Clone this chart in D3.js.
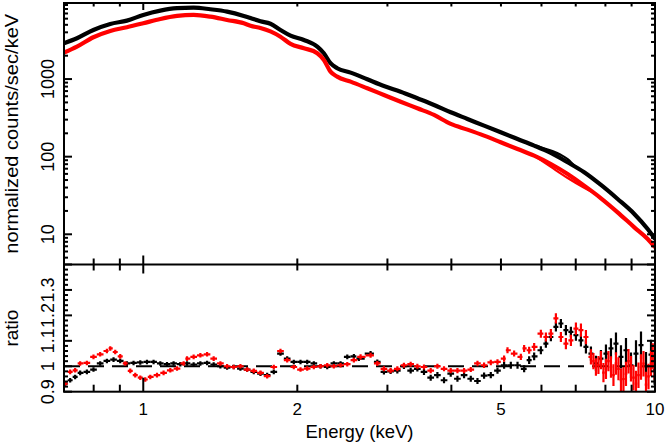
<!DOCTYPE html>
<html><head><meta charset="utf-8">
<script src="https://cdn.jsdelivr.net/npm/d3@7"></script>
<style>
body{margin:0;background:#fff}
svg{display:block}
text{font-family:"Liberation Sans",Arial,sans-serif;fill:#000}
</style></head>
<body><svg id="c" width="667" height="443"></svg>
<script>
// ---------- data ----------
const specBlackE = [0.70,0.742,0.799,0.862,0.929,1.00,1.08,1.164,1.254,1.352,1.458,1.572,1.62,1.694,1.772,1.854,1.94,2.06,2.188,2.254,2.322,2.393,2.542,2.74,2.953,3.184,3.433,3.70,3.989,4.30,4.634,4.995,5.387,5.805,6.259,6.748,7.271,7.842,8.453,9.111,9.676,10.0];
const specBlackC = [2890,3360,4290,5130,5660,6700,7610,8180,8320,7930,7390,6500,6100,5560,5160,4290,3625,3190,2615,2150,1600,1380,1210,994,815,688,566,464,373,306,251,206,169,139,111.7,84.7,63,43.2,28.5,18.3,11.7,8.7];
const specBlackBE = [5.4,5.8,6.26,6.54,6.75,7.0];
const specBlackBC = [169,141,120,106,93,73];
const specRedE = [0.70,0.742,0.799,0.862,0.929,1.00,1.08,1.164,1.254,1.352,1.458,1.572,1.62,1.694,1.772,1.854,1.94,2.06,2.188,2.254,2.322,2.393,2.542,2.74,2.953,3.184,3.433,3.70,3.989,4.30,4.634,4.995,5.387,5.805,6.259,6.748,7.271,7.842,8.453,9.111,9.676,10.0];
const specRedC = [2190,2615,3457,4168,4651,5236,5951,6504,6699,6371,5775,5236,4850,4550,4120,3518,2835,2495,2150,1763,1245,1074,926,761,624,511,420,345,264,223,186.6,153.3,125.7,103,80.5,59.8,42.3,29.1,19.2,12.3,8.7,6.8];
const specRedBE = [5.8,6.26,6.75,7.27,7.6];
const specRedBC = [103,73.7,53.2,39.8,34.1];

const ratBlackE = [0.7037,0.7197,0.736,0.7528,0.7759,0.7993,0.8237,0.849,0.8748,0.9015,0.9292,0.9572,0.9866,1.0168,1.0475,1.0796,1.1126,1.1462,1.1814,1.2176,1.2544,1.2929,1.3325,1.3727,1.4148,1.4582,1.5022,1.5483,1.5957,1.644,1.6944,1.7463,1.799,1.8541,1.9109,1.9686,2.0289,2.091,2.1542,2.2202,2.2882,2.3572,2.4295,2.504,2.5795,2.6382,2.781,2.8663,2.9529,3.0435,3.1368,3.2315,3.3306,3.4327,3.5364,3.6448,3.7566,3.87,3.9886,4.111,4.2351,4.3649,4.4987,4.6344,4.7764,4.9228,5.0713,5.2267,5.3871,5.55,5.6765,5.8058,5.9837,6.12,6.2594,6.4021,6.5479,6.6971,6.8497,7.0058,7.1654,7.3286,7.4956,7.6664,7.841,8.0197,8.2024,8.3893,8.5804,8.7759,8.9758,9.1803,9.3895,9.6034,9.8221,9.98];
const ratBlackR = [0.932,0.945,0.958,0.974,0.978,0.987,1.011,1.021,1.026,1.021,1.011,1.013,1.015,1.017,1.017,1.011,1.008,1.011,1.008,1.011,1.007,1.011,1.013,1.007,1.000,0.995,0.997,0.991,0.987,0.978,0.971,0.965,0.978,1.050,1.030,1.017,1.017,1.017,1.011,1.000,0.997,1.011,1.011,1.037,1.039,1.030,1.050,1.017,0.978,0.980,0.983,1.000,0.983,0.990,0.978,0.955,0.965,0.945,0.971,0.951,0.965,0.951,0.942,0.963,0.965,0.983,1.004,1.004,1.004,0.990,1.024,1.039,1.063,1.089,1.115,1.155,1.168,1.142,1.135,1.122,1.102,1.076,1.050,1.011,1.030,1.050,1.070,1.089,1.037,1.063,1.004,1.050,1.083,1.000,1.046,0.987];
const ratBlackErr = [0.009,0.009,0.009,0.009,0.009,0.009,0.009,0.009,0.009,0.009,0.009,0.009,0.009,0.009,0.009,0.009,0.009,0.009,0.009,0.009,0.009,0.009,0.009,0.009,0.009,0.009,0.009,0.009,0.009,0.009,0.009,0.009,0.009,0.009,0.009,0.009,0.009,0.009,0.009,0.009,0.009,0.009,0.009,0.009,0.009,0.009,0.01,0.01,0.01,0.01,0.011,0.011,0.011,0.011,0.012,0.012,0.012,0.012,0.012,0.012,0.012,0.012,0.012,0.012,0.012,0.012,0.014,0.014,0.014,0.014,0.015,0.015,0.016,0.016,0.017,0.018,0.018,0.02,0.02,0.022,0.024,0.026,0.028,0.03,0.034,0.036,0.04,0.044,0.046,0.048,0.05,0.052,0.054,0.056,0.058,0.06];

const ratRedE = [0.7037,0.7197,0.736,0.7528,0.7759,0.7993,0.8237,0.849,0.862,0.8815,0.9015,0.9222,0.9431,0.9646,0.9866,1.009,1.032,1.0637,1.0957,1.1293,1.1641,1.1992,1.2176,1.2544,1.2929,1.3325,1.3727,1.4148,1.4582,1.5022,1.5483,1.5957,1.644,1.6944,1.7463,1.799,1.8541,1.9109,1.9686,2.0289,2.091,2.1542,2.2202,2.2882,2.3572,2.4295,2.504,2.5795,2.6585,2.781,2.8663,2.9529,3.0435,3.1368,3.2315,3.3306,3.4327,3.5364,3.6448,3.7566,3.87,3.9886,4.111,4.2351,4.3649,4.4987,4.6344,4.7764,4.9228,5.0713,5.1496,5.3053,5.4679,5.55,5.6765,5.8058,5.9837,6.12,6.2594,6.4021,6.5479,6.6971,6.8497,7.0058,7.1654,7.3286,7.4956,7.58,7.6664,7.753,7.841,7.93,8.0197,8.11,8.2024,8.295,8.3893,8.484,8.5804,8.677,8.7759,8.875,8.9758,9.077,9.1803,9.284,9.3895,9.496,9.6034,9.712,9.8221,9.90,9.98];
const ratRedR = [0.932,0.978,0.984,1.011,1.013,1.037,1.047,1.060,1.070,1.056,1.039,1.011,0.982,0.965,0.955,0.948,0.958,0.965,0.974,0.984,0.991,1.011,1.030,1.037,1.043,1.047,1.030,1.011,1.000,0.997,1.000,0.987,0.982,0.974,0.961,0.997,1.060,1.024,0.997,0.987,0.991,0.997,1.000,1.004,1.000,1.004,1.008,1.024,1.037,1.043,1.011,0.990,0.983,0.990,1.004,1.008,1.000,0.997,0.983,1.000,0.990,0.983,0.983,0.983,0.987,1.011,1.004,1.015,1.017,1.030,1.063,1.050,1.037,1.070,1.063,1.076,1.128,1.115,1.128,1.188,1.115,1.089,1.102,1.148,1.142,1.115,1.037,1.020,0.997,1.005,1.024,0.975,0.990,1.020,0.997,0.965,1.011,0.990,0.945,0.950,0.970,1.020,0.990,0.955,0.932,0.965,0.997,1.010,0.928,0.960,1.011,1.040,0.997];
const ratRedErr = [0.009,0.009,0.009,0.009,0.009,0.009,0.009,0.009,0.009,0.009,0.009,0.009,0.009,0.009,0.009,0.009,0.009,0.009,0.009,0.009,0.009,0.009,0.009,0.009,0.009,0.009,0.009,0.009,0.009,0.009,0.009,0.009,0.009,0.009,0.009,0.009,0.009,0.009,0.009,0.009,0.009,0.009,0.009,0.009,0.009,0.009,0.009,0.009,0.01,0.01,0.01,0.01,0.01,0.01,0.01,0.01,0.01,0.01,0.01,0.01,0.01,0.01,0.01,0.01,0.01,0.011,0.011,0.011,0.011,0.012,0.012,0.012,0.012,0.014,0.014,0.015,0.016,0.018,0.018,0.02,0.02,0.022,0.022,0.024,0.026,0.028,0.03,0.032,0.034,0.035,0.036,0.038,0.04,0.04,0.042,0.043,0.044,0.045,0.046,0.047,0.048,0.048,0.05,0.05,0.05,0.05,0.05,0.05,0.05,0.05,0.05,0.05,0.05];

const xMajorTicks = [1, 10];
const xMinorTicks = [0.8, 0.9, 2, 3, 4, 5, 6, 7, 8, 9];
const xTickLabels = [1, 2, 5, 10];
const yTopMajorTicks = [10, 100, 1000];
const yTopMinorTicks = [5,6,7,8,9,20,30,40,50,60,70,80,90,200,300,400,500,600,700,800,900,2000,3000,4000,5000,6000,7000,8000,9000];
const yTopTickLabels = ["10","100","1000"];
const ratioMajorTicks = [0.9, 1.0, 1.1, 1.2, 1.3, 1.4];
const ratioMinorTicks = [0.92,0.94,0.96,0.98,1.02,1.04,1.06,1.08,1.12,1.14,1.16,1.18,1.22,1.24,1.26,1.28,1.32,1.34,1.36,1.38];
const ratioTickLabels = ["0.9","1","1.1","1.2","1.3"];

// ---------- layout ----------
const L = 64, R = 655, T = 3, M = 264.5, B = 391.7;
const svg = d3.select("#c");
const x = d3.scaleLog().domain([0.7, 10]).range([L, R]);
const yTop = d3.scaleLog().domain([4.08, 9550]).range([M, T]);
const yRat = d3.scaleLinear().domain([0.9, 1.4]).range([B, M]);

const defs = svg.append("defs");
defs.append("clipPath").attr("id","cTop").append("rect").attr("x",L).attr("y",T).attr("width",R-L).attr("height",M-T);
defs.append("clipPath").attr("id","cBot").append("rect").attr("x",L).attr("y",M).attr("width",R-L).attr("height",B-M);

// ---------- top panel spectra ----------
const gTop = svg.append("g").attr("clip-path","url(#cTop)");
function specLine(E, C, color, w){
  const pts = E.map((e,i)=>[e, C[i]]);
  gTop.append("path").datum(pts)
    .attr("d", d3.line().x(d=>x(d[0])).y(d=>yTop(d[1])).curve(d3.curveMonotoneX))
    .attr("fill","none").attr("stroke",color).attr("stroke-width",w).attr("stroke-linejoin","round");
}
specLine(specBlackE, specBlackC, "#000", 4.2);
specLine(specBlackBE, specBlackBC, "#000", 2.2);
specLine(specRedE, specRedC, "#ff0000", 4.2);
specLine(specRedBE, specRedBC, "#ff0000", 2.2);

// ---------- ratio panel ----------
const gBot = svg.append("g").attr("clip-path","url(#cBot)");
gBot.append("line").attr("x1",L).attr("x2",R).attr("y1",yRat(1)).attr("y2",yRat(1))
  .attr("stroke","#000").attr("stroke-width",2).attr("stroke-dasharray","16,8");
function crosses(E, Rv, Er, color){
  const g = gBot.append("g").attr("stroke",color).attr("stroke-width",2.2);
  E.forEach((e,i)=>{
    const lo = i>0 ? Math.sqrt(E[i-1]*e) : e*e/Math.sqrt(e*E[i+1]);
    const hi = i<E.length-1 ? Math.sqrt(E[i+1]*e) : e*e/Math.sqrt(e*E[i-1]);
    g.append("line").attr("x1",x(lo)).attr("x2",x(hi)).attr("y1",yRat(Rv[i])).attr("y2",yRat(Rv[i]));
    g.append("line").attr("x1",x(e)).attr("x2",x(e)).attr("y1",yRat(Rv[i]-Er[i])).attr("y2",yRat(Rv[i]+Er[i]));
  });
}
crosses(ratBlackE, ratBlackR, ratBlackErr, "#000");
crosses(ratRedE, ratRedR, ratRedErr, "#ff0000");

// ---------- frames & ticks ----------
const ax = svg.append("g").attr("stroke","#000").attr("stroke-width",2).attr("fill","none");
ax.append("rect").attr("x",L).attr("y",T).attr("width",R-L).attr("height",B-T);
ax.append("line").attr("x1",L).attr("x2",R).attr("y1",M).attr("y2",M);
function vt(v, y0, len){ ax.append("line").attr("x1",x(v)).attr("x2",x(v)).attr("y1",y0).attr("y2",y0+len); }
xMajorTicks.forEach(v=>{ vt(v,T,7); vt(v,M,-9); vt(v,M,9); vt(v,B,-14); });
xMinorTicks.forEach(v=>{ vt(v,T,3.5); vt(v,M,-6); vt(v,M,6); vt(v,B,-7); });
function ht(y, x0, len){ ax.append("line").attr("x1",x0).attr("x2",x0+len).attr("y1",y).attr("y2",y); }
yTopMajorTicks.forEach(v=>{ ht(yTop(v),L,8); ht(yTop(v),R,-8); });
yTopMinorTicks.forEach(v=>{ ht(yTop(v),L,4); ht(yTop(v),R,-4); });
ratioMajorTicks.forEach(v=>{ ht(yRat(v),L,8); ht(yRat(v),R,-8); });
ratioMinorTicks.forEach(v=>{ ht(yRat(v),L,4); ht(yRat(v),R,-4); });

// ---------- labels ----------
const fs = 18;
xTickLabels.forEach(v=>{
  svg.append("text").attr("x",x(v)).attr("y",415).attr("text-anchor","middle").attr("font-size",17).text(String(v));
});
yTopMajorTicks.forEach((v,i)=>{
  svg.append("text").attr("transform",`translate(53.5,${yTop(v)}) rotate(-90)`).attr("text-anchor","middle").attr("font-size",fs).text(yTopTickLabels[i]);
});
ratioTickLabels.forEach((t,i)=>{
  svg.append("text").attr("transform",`translate(53.5,${yRat(ratioMajorTicks[i])}) rotate(-90)`).attr("text-anchor","middle").attr("font-size",fs).text(t);
});
svg.append("text").attr("x",(L+R)/2).attr("y",438).attr("text-anchor","middle").attr("font-size",19)
  .attr("textLength",108).attr("lengthAdjust","spacingAndGlyphs").text("Energy (keV)");
svg.append("text").attr("transform",`translate(18,${(T+M)/2}) rotate(-90)`).attr("text-anchor","middle").attr("font-size",19)
  .attr("textLength",240).attr("lengthAdjust","spacingAndGlyphs").text("normalized counts/sec/keV");
svg.append("text").attr("transform",`translate(18,${(M+B)/2}) rotate(-90)`).attr("text-anchor","middle").attr("font-size",19).text("ratio");
</script></body></html>
